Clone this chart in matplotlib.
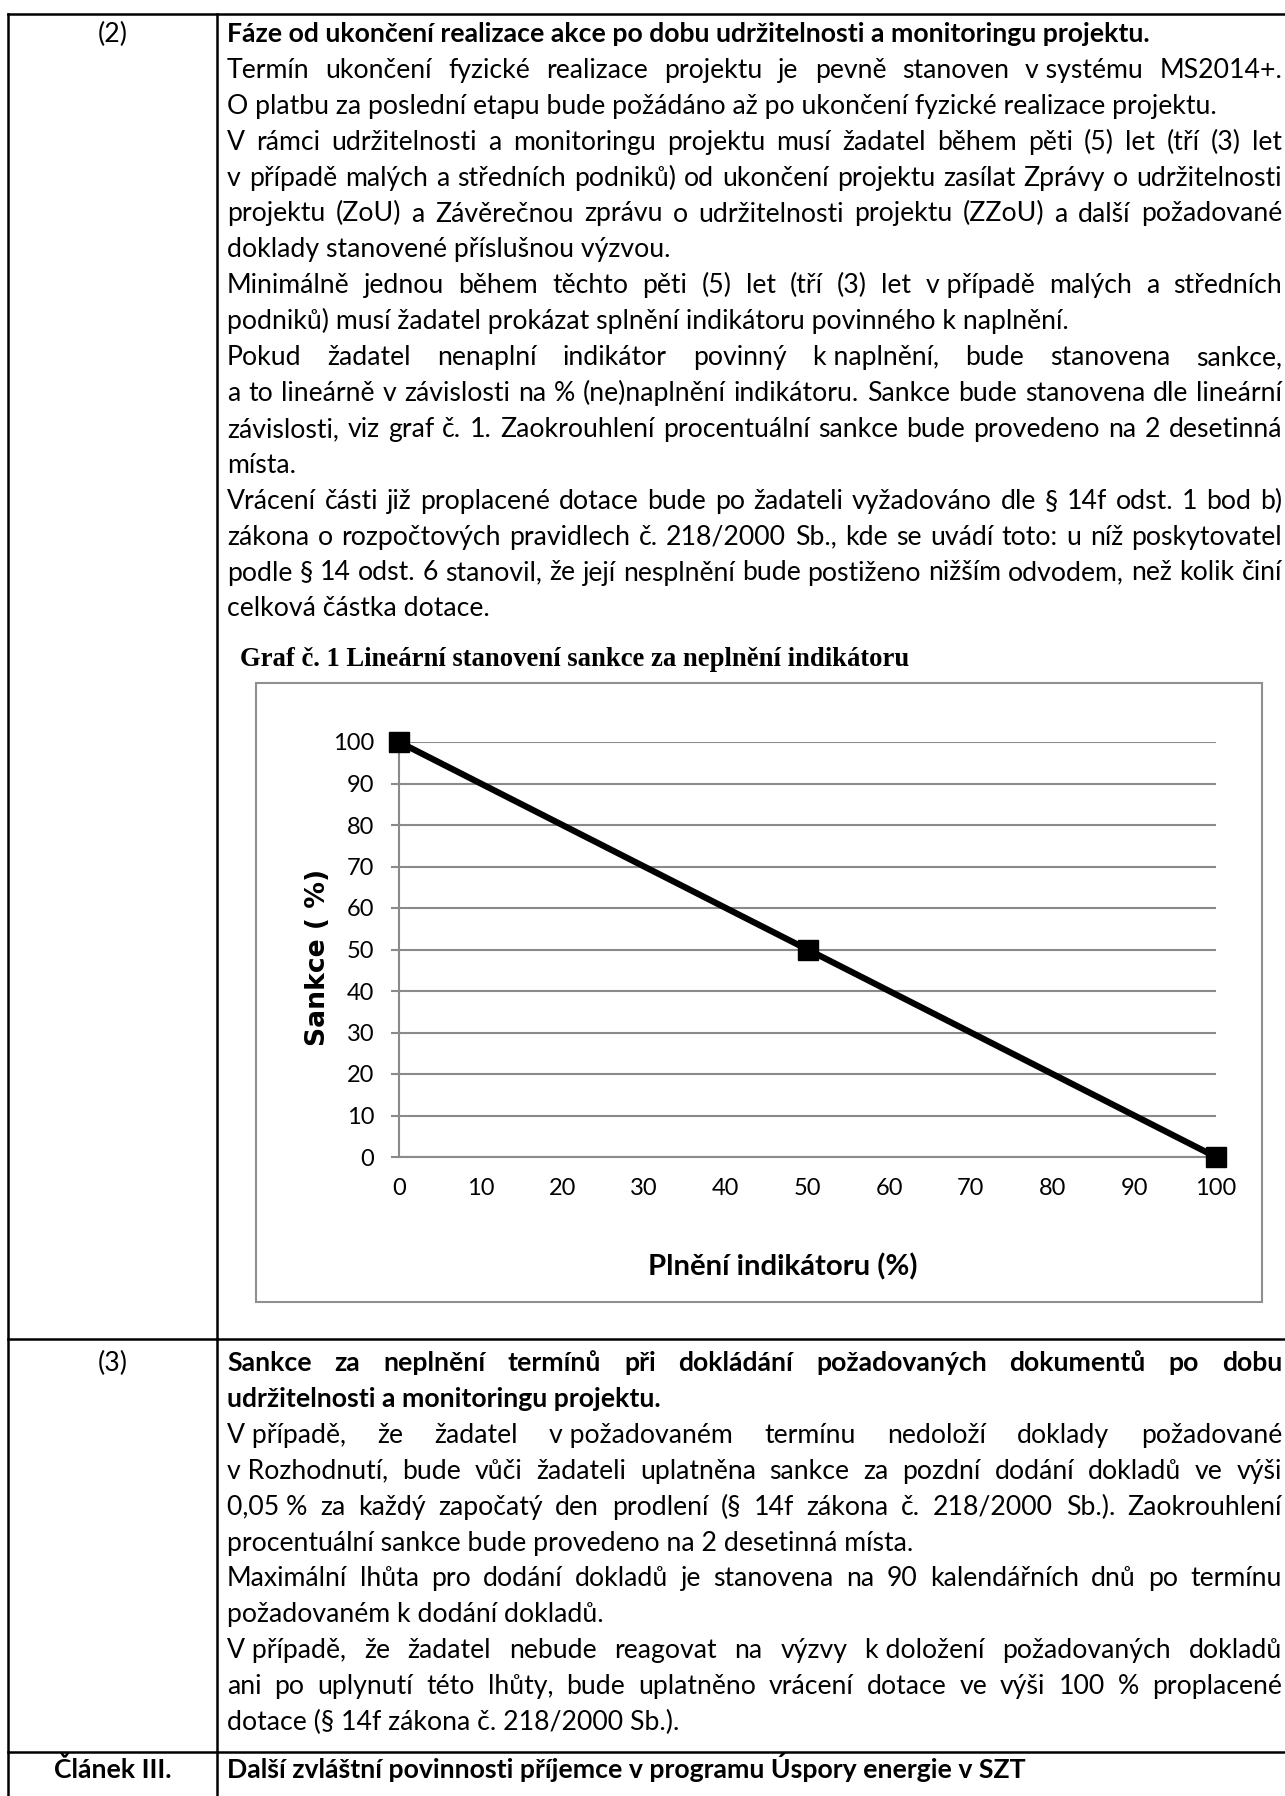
import matplotlib
matplotlib.use('Agg')
import matplotlib.pyplot as plt
from matplotlib.patches import Rectangle

W, H = 1285, 1796

# --- data of the chart (Graf č. 1) ---
plneni = [0, 50, 100]      # Plnění indikátoru (%)
sankce = [100, 50, 0]      # Sankce (%)
x_ticks = [0, 10, 20, 30, 40, 50, 60, 70, 80, 90, 100]
y_ticks = [0, 10, 20, 30, 40, 50, 60, 70, 80, 90, 100]

chart_title = 'Graf č. 1 Lineární stanovení sankce za neplnění indikátoru'
x_title = 'Plnění indikátoru (%)'
y_title = 'Sankce ( %)'

# --- table text: (line, bold, justified) ---
row_labels = ['(2)', '(3)', 'Článek III.']

row2_lines = [
    ('Fáze od ukončení realizace akce po dobu udržitelnosti a monitoringu projektu.', True, False),
    ('Termín ukončení fyzické realizace projektu je pevně stanoven v\u00a0systému MS2014+.', False, True),
    ('O platbu za poslední etapu bude požádáno až po ukončení fyzické realizace projektu.', False, False),
    ('V rámci udržitelnosti a monitoringu projektu musí žadatel během pěti (5) let (tří (3) let', False, True),
    ('v případě malých a středních podniků) od ukončení projektu zasílat Zprávy o udržitelnosti', False, True),
    ('projektu (ZoU) a Závěrečnou zprávu o udržitelnosti projektu (ZZoU) a další požadované', False, True),
    ('doklady stanovené příslušnou výzvou.', False, False),
    ('Minimálně jednou během těchto pěti (5) let (tří (3) let v\u00a0případě malých a středních', False, True),
    ('podniků) musí žadatel prokázat splnění indikátoru povinného k\u00a0naplnění.', False, False),
    ('Pokud žadatel nenaplní indikátor povinný k\u00a0naplnění, bude stanovena sankce,', False, True),
    ('a to lineárně v závislosti na % (ne)naplnění indikátoru. Sankce bude stanovena dle lineární', False, True),
    ('závislosti, viz graf č. 1. Zaokrouhlení procentuální sankce bude provedeno na 2 desetinná', False, True),
    ('místa.', False, False),
    ('Vrácení části již proplacené dotace bude po žadateli vyžadováno dle § 14f odst. 1 bod b)', False, True),
    ('zákona o rozpočtových pravidlech č. 218/2000 Sb., kde se uvádí toto: u níž poskytovatel', False, True),
    ('podle § 14 odst. 6 stanovil, že její nesplnění bude postiženo nižším odvodem, než kolik činí', False, True),
    ('celková částka dotace.', False, False),
]

row3_lines = [
    ('Sankce za neplnění termínů při dokládání požadovaných dokumentů po dobu', True, True),
    ('udržitelnosti a monitoringu projektu.', True, False),
    ('V\u00a0případě, že žadatel v\u00a0požadovaném termínu nedoloží doklady požadované', False, True),
    ('v\u00a0Rozhodnutí, bude vůči žadateli uplatněna sankce za pozdní dodání dokladů ve výši', False, True),
    ('0,05\u00a0% za každý započatý den prodlení (§ 14f zákona č. 218/2000 Sb.). Zaokrouhlení', False, True),
    ('procentuální sankce bude provedeno na 2 desetinná místa.', False, False),
    ('Maximální lhůta pro dodání dokladů je stanovena na 90 kalendářních dnů po termínu', False, True),
    ('požadovaném k\u00a0dodání dokladů.', False, False),
    ('V\u00a0případě, že žadatel nebude reagovat na výzvy k\u00a0doložení požadovaných dokladů', False, True),
    ('ani po uplynutí této lhůty, bude uplatněno vrácení dotace ve výši 100 % proplacené', False, True),
    ('dotace (§ 14f zákona č. 218/2000 Sb.).', False, False),
]

row4_lines = [
    ('Další zvláštní povinnosti příjemce v programu Úspory energie v SZT', True, False),
]

BODY = ['Lato', 'DejaVu Sans']
GRID = '#8a8a8a'
TX0, TX1 = 227, 1282      # text column (px)
LINE = 35.9               # line pitch (px)
BASE = 9                  # centre -> baseline (px)

fig = plt.figure(figsize=(W / 100, H / 100), dpi=100)
page = fig.add_axes([0, 0, 1, 1])
page.set_xlim(0, W)
page.set_ylim(H, 0)
page.axis('off')
r = fig.canvas.get_renderer()


def measure(s, fs, bold=False, family=BODY, rot=0):
    t = page.text(0, 0, s, fontsize=fs, family=family,
                  fontweight='bold' if bold else 'normal', rotation=rot)
    bb = t.get_window_extent(renderer=r)
    t.remove()
    return bb.height if rot else bb.width


# body font size: shrink if a justified line would not fit
fs = 19.5
for lines in (row2_lines, row3_lines):
    for s, b, j in lines:
        if j:
            w = measure(s, fs, b)
            if w > (TX1 - TX0):
                fs = fs * (TX1 - TX0) / w * 0.995


def draw_lines(lines, y_first):
    for i, (s, bold, just) in enumerate(lines):
        yb = y_first + i * LINE + BASE
        wt = 'bold' if bold else 'normal'
        if not just:
            page.text(TX0, yb, s, fontsize=fs, family=BODY, fontweight=wt,
                      va='baseline', ha='left')
            continue
        words = s.split(' ')
        widths = [measure(w, fs, bold) for w in words]
        gap = (TX1 - TX0 - sum(widths)) / (len(words) - 1)
        x = TX0
        for w, wd in zip(words, widths):
            page.text(x, yb, w, fontsize=fs, family=BODY, fontweight=wt,
                      va='baseline', ha='left')
            x += wd + gap


# table rules
lw_tab = 1.8
page.plot([8, W], [14, 14], color='black', lw=lw_tab)
page.plot([8, 8], [14, H], color='black', lw=lw_tab)
page.plot([217, 217], [14, H], color='black', lw=lw_tab)
page.plot([8, W], [1339, 1339], color='black', lw=lw_tab)
page.plot([8, W], [1752, 1752], color='black', lw=lw_tab)

# left column labels
page.text(113, 33 + BASE, row_labels[0], fontsize=fs, family=BODY, ha='center', va='baseline')
page.text(113, 1362 + BASE, row_labels[1], fontsize=fs, family=BODY, ha='center', va='baseline')
page.text(113, 1769 + BASE, row_labels[2], fontsize=fs, family=BODY, fontweight='bold',
          ha='center', va='baseline')

draw_lines(row2_lines, 33)
draw_lines(row3_lines, 1362)
draw_lines(row4_lines, 1769)

# chart frame and title
page.add_patch(Rectangle((256, 683), 1262 - 256, 1302 - 683, fill=False,
                         edgecolor='#8f8f8f', lw=1.5))
fs_t = 18 * 666 / measure(chart_title, 18, True, ['Liberation Serif'])
page.text(240, 660, chart_title, fontsize=fs_t, family=['Liberation Serif'],
          fontweight='bold', va='center', ha='left')

fs_y = 16 * 178 / measure(y_title, 16, True, ['DejaVu Sans'], rot=90)
page.text(318, 957, y_title, fontsize=fs_y, family=['DejaVu Sans'], fontweight='bold',
          rotation=90, ha='center', va='center')

fs_x = 20 * 271 / measure(x_title, 20, True)
page.text(783, 1267, x_title, fontsize=fs_x, family=BODY, fontweight='bold',
          ha='center', va='center')

# the chart itself
ax = fig.add_axes([399 / W, 1 - 1157 / H, (1216 - 399) / W, (1157 - 742) / H])
ax.patch.set_alpha(0)
ax.plot(plneni, sankce, color='black', lw=4.5, marker='s', ms=15,
        clip_on=False, zorder=5)
ax.set_xlim(0, 100)
ax.set_ylim(0, 100)
ax.set_xticks(x_ticks)
ax.set_yticks(y_ticks)
ax.yaxis.grid(True, color=GRID, lw=1.5)
ax.set_axisbelow(True)
for s in ['top', 'right']:
    ax.spines[s].set_visible(False)
for s in ['left', 'bottom']:
    ax.spines[s].set_color(GRID)
    ax.spines[s].set_linewidth(1.5)
ax.tick_params(axis='y', length=5.8, width=1.5, color=GRID, pad=12, labelsize=17)
ax.tick_params(axis='x', length=0, pad=15, labelsize=17)
for lab in ax.get_xticklabels() + ax.get_yticklabels():
    lab.set_family(BODY)

fig.savefig('out.png', dpi=100)
